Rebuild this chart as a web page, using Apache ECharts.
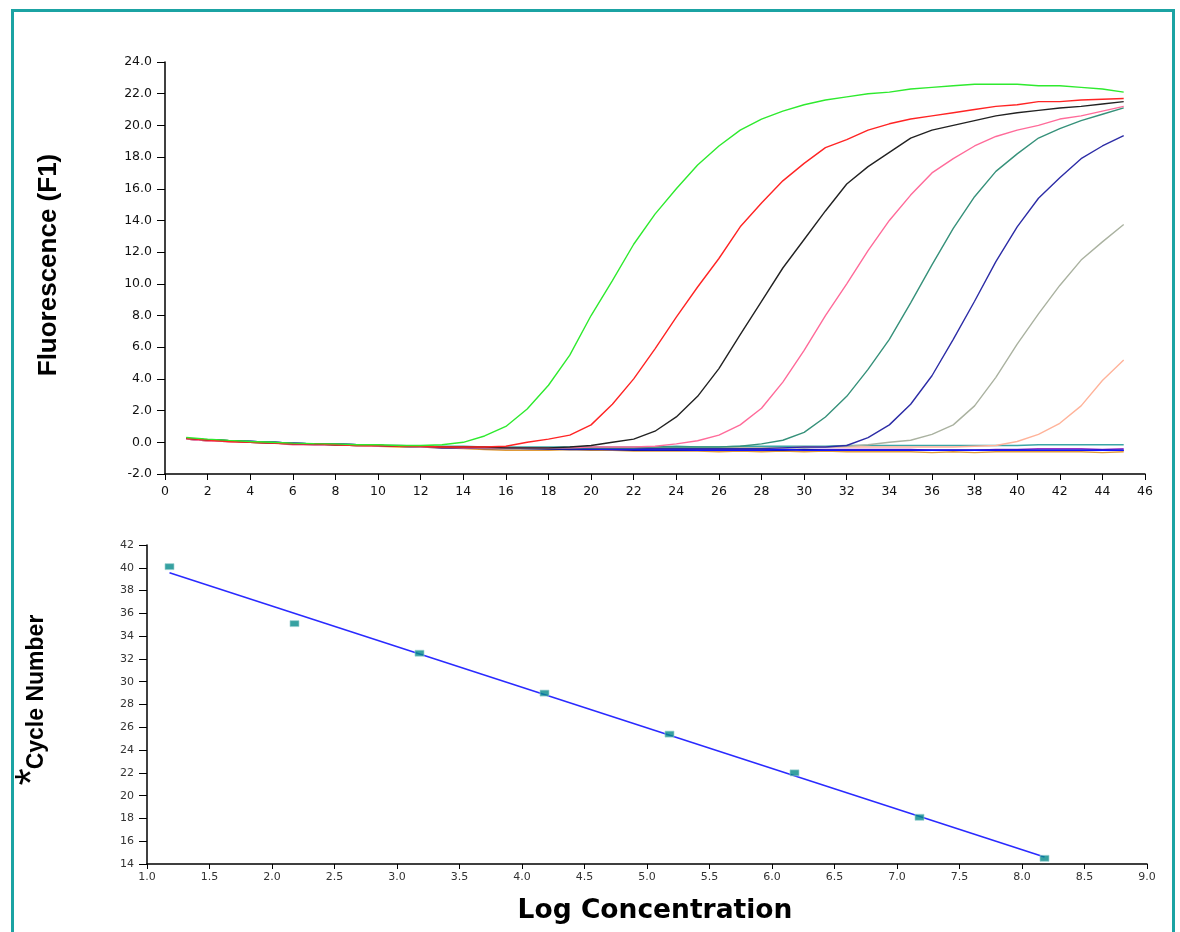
<!DOCTYPE html>
<html>
<head>
<meta charset="utf-8">
<title>qPCR amplification and standard curve</title>
<script src="https://cdn.jsdelivr.net/npm/echarts@6/dist/echarts.min.js"></script>
<style>
    html, body { margin: 0; padding: 0; background: #fff; }
    #main { width: 1180px; height: 932px; }
</style>
</head>
<body>
<div id="main"></div>
<script>
// 循环数 (x of the upper chart)
var cycles = [1,2,3,4,5,6,7,8,9,10,11,12,13,14,15,16,17,18,19,20,21,22,23,24,25,26,27,28,29,30,
    31,32,33,34,35,36,37,38,39,40,41,42,43,44,45];

// amplification curves, fluorescence per cycle
var greenF = [0.3,0.2,0.12,0.05,0.0,-0.05,-0.08,-0.1,-0.15,-0.15,
    -0.2,-0.2,-0.15,0.0,0.4,1.0,2.1,3.6,5.5,8.0,
    10.2,12.5,14.4,16.0,17.5,18.7,19.7,20.4,20.9,21.3,
    21.6,21.8,22.0,22.1,22.3,22.4,22.5,22.6,22.6,22.6,
    22.5,22.5,22.4,22.3,22.1];
var redF = [0.25,0.15,0.05,0.0,-0.05,-0.1,-0.1,-0.15,-0.2,-0.2,
    -0.25,-0.25,-0.3,-0.3,-0.3,-0.25,0.0,0.2,0.45,1.1,
    2.4,4.0,5.9,7.9,9.8,11.6,13.6,15.1,16.5,17.6,
    18.6,19.1,19.7,20.1,20.4,20.6,20.8,21.0,21.2,21.3,
    21.5,21.5,21.6,21.65,21.7];
var blackF = [0.25,0.15,0.1,0.0,-0.05,-0.1,-0.1,-0.15,-0.15,-0.2,
    -0.25,-0.25,-0.3,-0.3,-0.3,-0.35,-0.35,-0.35,-0.3,-0.2,
    0.0,0.2,0.7,1.6,2.9,4.65,6.8,8.9,11.0,12.8,
    14.6,16.3,17.4,18.3,19.2,19.7,20.0,20.3,20.6,20.8,
    20.95,21.1,21.2,21.35,21.5];
var pinkF = [0.2,0.1,0.05,0.0,-0.05,-0.15,-0.15,-0.15,-0.2,-0.25,
    -0.25,-0.3,-0.3,-0.35,-0.35,-0.35,-0.35,-0.35,-0.35,-0.3,
    -0.3,-0.3,-0.25,-0.1,0.1,0.45,1.1,2.15,3.8,5.8,
    8.0,10.0,12.1,14.0,15.6,17.0,17.9,18.7,19.3,19.7,
    20.0,20.4,20.6,20.9,21.2];
var tealF = [0.25,0.15,0.1,0.05,0.0,-0.1,-0.1,-0.15,-0.2,-0.2,
    -0.25,-0.3,-0.3,-0.3,-0.35,-0.35,-0.35,-0.35,-0.35,-0.35,
    -0.35,-0.35,-0.3,-0.3,-0.3,-0.3,-0.25,-0.1,0.13,0.63,
    1.6,2.9,4.6,6.5,8.8,11.2,13.5,15.5,17.1,18.2,
    19.2,19.8,20.3,20.7,21.1];
var navyF = [0.25,0.15,0.1,0.05,0.0,-0.05,-0.1,-0.1,-0.15,-0.2,
    -0.25,-0.25,-0.3,-0.3,-0.35,-0.35,-0.4,-0.4,-0.4,-0.4,
    -0.4,-0.4,-0.4,-0.4,-0.4,-0.4,-0.4,-0.4,-0.35,-0.3,
    -0.3,-0.2,0.3,1.1,2.4,4.2,6.5,8.9,11.4,13.6,
    15.4,16.7,17.9,18.7,19.35];
var tanF = [0.25,0.15,0.1,0.05,0.0,-0.05,-0.1,-0.1,-0.15,-0.2,
    -0.2,-0.25,-0.3,-0.3,-0.3,-0.35,-0.35,-0.35,-0.35,-0.35,
    -0.35,-0.35,-0.35,-0.35,-0.35,-0.35,-0.35,-0.35,-0.35,-0.35,
    -0.3,-0.25,-0.15,0.0,0.13,0.5,1.1,2.3,4.1,6.2,
    8.1,9.9,11.5,12.65,13.75];
var salmonF = [0.2,0.1,0.05,0.0,-0.05,-0.1,-0.1,-0.15,-0.2,-0.2,
    -0.25,-0.25,-0.3,-0.3,-0.35,-0.35,-0.35,-0.35,-0.35,-0.35,
    -0.35,-0.35,-0.35,-0.35,-0.35,-0.35,-0.35,-0.35,-0.35,-0.3,
    -0.3,-0.3,-0.3,-0.3,-0.3,-0.3,-0.3,-0.25,-0.2,0.05,
    0.5,1.2,2.3,3.9,5.2];

// negative samples (flat lines)
var cyanF = [0.25,0.15,0.1,0.05,0.0,-0.05,-0.1,-0.1,-0.15,-0.2,
    -0.2,-0.25,-0.25,-0.25,-0.3,-0.3,-0.3,-0.3,-0.3,-0.3,
    -0.3,-0.3,-0.3,-0.25,-0.3,-0.3,-0.25,-0.25,-0.25,-0.25,
    -0.25,-0.2,-0.2,-0.2,-0.2,-0.2,-0.2,-0.2,-0.2,-0.2,
    -0.15,-0.15,-0.15,-0.15,-0.15];
var blueF = [0.2,0.12,0.08,0.05,0.0,-0.05,-0.1,-0.12,-0.15,-0.2,
    -0.22,-0.25,-0.3,-0.3,-0.32,-0.35,-0.35,-0.38,-0.4,-0.42,
    -0.45,-0.45,-0.48,-0.48,-0.5,-0.5,-0.5,-0.5,-0.45,-0.5,
    -0.5,-0.5,-0.5,-0.5,-0.5,-0.5,-0.5,-0.5,-0.5,-0.5,
    -0.5,-0.5,-0.5,-0.5,-0.5];
var purpleF = [0.2,0.1,0.05,0.0,0.0,-0.1,-0.15,-0.15,-0.2,-0.2,
    -0.25,-0.25,-0.35,-0.35,-0.35,-0.35,-0.35,-0.4,-0.4,-0.4,
    -0.4,-0.4,-0.42,-0.42,-0.45,-0.45,-0.45,-0.45,-0.45,-0.45,
    -0.45,-0.45,-0.45,-0.45,-0.45,-0.5,-0.5,-0.5,-0.45,-0.45,
    -0.4,-0.4,-0.4,-0.45,-0.4];
var orangeF = [0.2,0.1,0.05,0.0,-0.05,-0.1,-0.15,-0.15,-0.2,-0.25,
    -0.3,-0.3,-0.35,-0.4,-0.45,-0.5,-0.5,-0.5,-0.45,-0.5,
    -0.5,-0.55,-0.55,-0.55,-0.55,-0.6,-0.55,-0.6,-0.55,-0.6,
    -0.55,-0.6,-0.6,-0.6,-0.6,-0.65,-0.6,-0.65,-0.6,-0.6,
    -0.6,-0.6,-0.6,-0.65,-0.6];
var darkF = [0.25,0.15,0.1,0.05,0.0,-0.05,-0.1,-0.12,-0.15,-0.2,
    -0.25,-0.3,-0.35,-0.35,-0.4,-0.4,-0.4,-0.42,-0.45,-0.45,
    -0.45,-0.5,-0.5,-0.5,-0.5,-0.5,-0.5,-0.5,-0.5,-0.45,
    -0.5,-0.5,-0.5,-0.5,-0.5,-0.5,-0.5,-0.5,-0.5,-0.5,
    -0.5,-0.5,-0.5,-0.5,-0.5];

// standard curve
var logConc = [1.18, 2.18, 3.18, 4.18, 5.18, 6.18, 7.18, 8.18];
var cycleNum = [40.1, 35.1, 32.5, 29.0, 25.4, 22.0, 18.1, 14.5];
var fitX = [1.18, 8.18];
var fitY = [39.56, 14.62];

function pairs(xs, ys) {
    var out = [];
    for (var i = 0; i < xs.length; i++) {
        out.push([xs[i], ys[i]]);
    }
    return out;
}

var curves = [
    { name: 'cyan', data: cyanF, color: '#3aa6a6' },
    { name: 'orange', data: orangeF, color: '#e09a38' },
    { name: 'purple', data: purpleF, color: '#9a34c8' },
    { name: 'dark', data: darkF, color: '#141480' },
    { name: 'blue', data: blueF, color: '#1414ff' },
    { name: 'salmon', data: salmonF, color: '#ffb39a' },
    { name: 'tan', data: tanF, color: '#aab2a0' },
    { name: 'navy', data: navyF, color: '#2c2ca6' },
    { name: 'teal', data: tealF, color: '#36917a' },
    { name: 'pink', data: pinkF, color: '#ff6b9a' },
    { name: 'black', data: blackF, color: '#222222' },
    { name: 'red', data: redF, color: '#ff2424' },
    { name: 'green', data: greenF, color: '#2eea2e' }
];

var tickFont = 'DejaVu Sans';
var titleFont = '"Liberation Sans", Arial, sans-serif';

var series = [];
for (var i = 0; i < curves.length; i++) {
    series.push({
        name: curves[i].name,
        type: 'line',
        xAxisIndex: 0,
        yAxisIndex: 0,
        data: pairs(cycles, curves[i].data),
        showSymbol: false,
        smooth: false,
        lineStyle: { color: curves[i].color, width: 1.4 },
        silent: true,
        z: 2
    });
}
// 拟合直线
series.push({
    name: 'fit',
    type: 'line',
    xAxisIndex: 1,
    yAxisIndex: 1,
    data: pairs(fitX, fitY),
    showSymbol: false,
    lineStyle: { color: '#2a2aff', width: 1.5 },
    silent: true,
    z: 2
});
series.push({
    name: 'standards',
    type: 'scatter',
    xAxisIndex: 1,
    yAxisIndex: 1,
    data: pairs(logConc, cycleNum),
    symbol: 'rect',
    symbolSize: [9, 6],
    itemStyle: { color: '#048a8a', borderColor: '#9fd3d3', borderWidth: 0.8 },
    silent: true,
    z: 3
});

var chart = echarts.init(document.getElementById('main'));
var option = {
    backgroundColor: '#ffffff',
    animation: false,
    grid: [
        { left: 165, right: 35, top: 62, bottom: 458 },
        { left: 147, right: 33, top: 545, bottom: 68 }
    ],
    xAxis: [
        {
            type: 'value', gridIndex: 0, min: 0, max: 46, interval: 2,
            axisLine: { onZero: false, lineStyle: { color: '#000', width: 1.5 } },
            axisTick: { length: 6, lineStyle: { color: '#000' } },
            axisLabel: { margin: 11, fontFamily: tickFont, fontSize: 12.5, color: '#111' },
            splitLine: { show: false }
        },
        {
            type: 'value', gridIndex: 1, min: 1, max: 9, interval: 0.5,
            axisLine: { onZero: false, lineStyle: { color: '#000', width: 1.5 } },
            axisTick: { length: 5, lineStyle: { color: '#000' } },
            axisLabel: {
                margin: 8, fontFamily: tickFont, fontSize: 11, color: '#333',
                formatter: function (v) { return v.toFixed(1); }
            },
            splitLine: { show: false }
        }
    ],
    yAxis: [
        {
            type: 'value', gridIndex: 0, min: -2, max: 24, interval: 2,
            axisLine: { show: true, onZero: false, lineStyle: { color: '#000', width: 1.5 } },
            axisTick: { show: true, length: 8, lineStyle: { color: '#000' } },
            axisLabel: {
                margin: 13, fontFamily: tickFont, fontSize: 12.5, color: '#111',
                formatter: function (v) { return v.toFixed(1); }
            },
            splitLine: { show: false }
        },
        {
            type: 'value', gridIndex: 1, min: 14, max: 42, interval: 2,
            axisLine: { show: true, onZero: false, lineStyle: { color: '#000', width: 1.5 } },
            axisTick: { show: true, length: 8, lineStyle: { color: '#000' } },
            axisLabel: { margin: 13, fontFamily: tickFont, fontSize: 11, color: '#333' },
            splitLine: { show: false }
        }
    ],
    graphic: [
        // 外框
        {
            type: 'rect', left: 10, top: 8, silent: true,
            shape: { width: 1161, height: 960 },
            style: { fill: null, stroke: '#1ba3a3', lineWidth: 3 }
        },
        {
            type: 'text', x: 49, y: 265, rotation: Math.PI / 2, silent: true,
            style: {
                text: 'Fluorescence (F1)', fill: '#000', align: 'center', verticalAlign: 'middle',
                fontFamily: titleFont, fontWeight: 'bold', fontSize: 26
            }
        },
        {
            type: 'text', x: 37, y: 692, rotation: Math.PI / 2, silent: true,
            style: {
                text: 'Cycle Number', fill: '#000', align: 'center', verticalAlign: 'middle',
                fontFamily: titleFont, fontWeight: 'bold', fontSize: 23
            }
        },
        {
            type: 'text', x: 34, y: 777, rotation: Math.PI / 2, silent: true,
            style: {
                text: '*', fill: '#000', align: 'center', verticalAlign: 'middle',
                fontFamily: titleFont, fontSize: 44
            }
        },
        {
            type: 'text', x: 655, y: 911, silent: true,
            style: {
                text: 'Log Concentration', fill: '#000', align: 'center', verticalAlign: 'middle',
                fontFamily: 'DejaVu Sans', fontWeight: 'bold', fontSize: 26.5
            }
        }
    ],
    series: series
};
chart.setOption(option);
window.onresize = chart.resize;
</script>
</body>
</html>
